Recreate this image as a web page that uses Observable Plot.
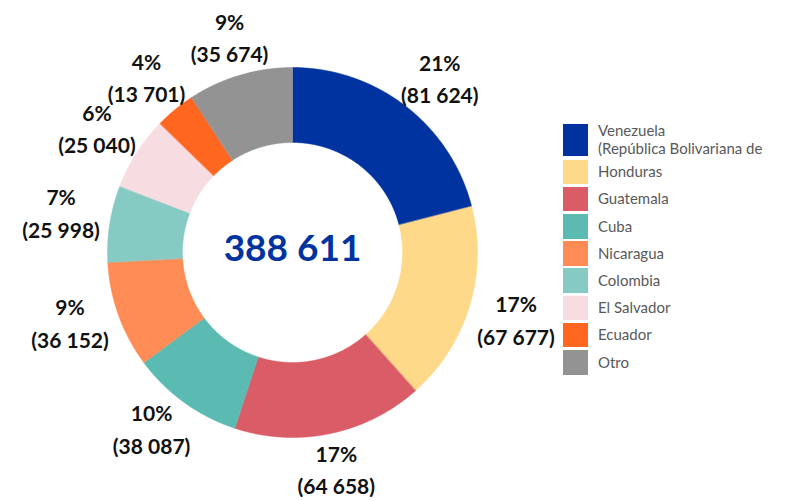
<!DOCTYPE html>
<html>
<head>
<meta charset="utf-8">
<script src="https://cdn.jsdelivr.net/npm/d3@7"></script>
<script src="https://cdn.jsdelivr.net/npm/@observablehq/plot@0.6"></script>
<style>
  html, body { margin: 0; padding: 0; background: #fff; }
  #wrap { position: relative; width: 790px; height: 501px; overflow: hidden; font-family: Lato, "Open Sans", sans-serif; }
  #legend { position: absolute; left: 563px; top: 122px; }
  .row { display: flex; align-items: center; margin-bottom: 2.7px; }
  .sw { width: 25px; height: 24.5px; flex: none; }
  .lab { margin-left: 10px; font-size: 15px; color: #595959; line-height: 17.5px; white-space: nowrap; }
</style>
</head>
<body>
<div id="wrap"><div id="chart"></div><div id="legend"></div></div>
<script>
// ---- data ----
const categories = ["Venezuela\n(República Bolivariana de", "Honduras", "Guatemala", "Cuba", "Nicaragua", "Colombia", "El Salvador", "Ecuador", "Otro"];
const values = [81624, 67677, 64658, 38087, 36152, 25998, 25040, 13701, 35674];
const colors = ["#0033a0", "#ffd98a", "#da5c66", "#5bbab2", "#ff8c55", "#85cbc4", "#f7dde1", "#ff6720", "#939393"];

// ---- layout constants ----
const W = 790, H = 501, CX = 292, CY = 252;
const R_OUT = 185, R_IN = 110;
const LABEL_RX = 235, LABEL_RY = 222, LABEL_SHIFT = 1 * Math.PI / 180;

const fmt = d3.formatLocale({decimal: ",", thousands: " ", grouping: [3], currency: ["", ""]}).format(",d");
const total = d3.sum(values);
const rows = categories.map((c, i) => ({category: c, value: values[i]}));
const arcs = d3.pie().sort(null).value(d => d.value)(rows);

// polygon points per slice (angle measured clockwise from 12 o'clock)
const pts = [];
for (const a of arcs) {
  const n = Math.max(2, Math.ceil((a.endAngle - a.startAngle) / 0.005));
  for (let k = 0; k <= n; k++) {
    const t = a.startAngle + (a.endAngle - a.startAngle) * k / n;
    pts.push({category: a.data.category, x: R_OUT * Math.sin(t), y: R_OUT * Math.cos(t)});
  }
  for (let k = n; k >= 0; k--) {
    const t = a.startAngle + (a.endAngle - a.startAngle) * k / n;
    pts.push({category: a.data.category, x: R_IN * Math.sin(t), y: R_IN * Math.cos(t)});
  }
}
const labels = arcs.map(a => {
  const t = (a.startAngle + a.endAngle) / 2 + LABEL_SHIFT;
  return {
    x: LABEL_RX * Math.sin(t), y: LABEL_RY * Math.cos(t),
    text: `${Math.round(a.data.value / total * 100)}%\n(${fmt(a.data.value)})`
  };
});

const chart = Plot.plot({
  width: W, height: H,
  margin: 0,
  x: {domain: [-CX, W - CX], axis: null},
  y: {domain: [-(H - CY), CY], axis: null},
  color: {domain: categories, range: colors},
  style: {fontFamily: "Lato, 'Open Sans', sans-serif", background: "#fff"},
  marks: [
    Plot.line(pts, {x: "x", y: "y", z: "category", fill: "category", stroke: "category", strokeWidth: 0.5, curve: "linear-closed"}),
    Plot.text(labels, {x: "x", y: "y", text: "text", fontSize: 21, fontWeight: "bold", fill: "#111", lineHeight: 1.55, dy: -3}),
    Plot.text([fmt(total)], {x: () => 0, y: () => 0, text: d => d, fontSize: 37, fontWeight: "bold", fill: "#0033a0", dy: -3})
  ]
});
document.getElementById("chart").appendChild(chart);

// legend
const leg = document.getElementById("legend");
categories.forEach((c, i) => {
  const row = document.createElement("div");
  row.className = "row";
  const sw = document.createElement("div");
  sw.className = "sw";
  sw.style.background = colors[i];
  if (c.includes("\n")) sw.style.height = "32px";
  const lab = document.createElement("div");
  lab.className = "lab";
  lab.innerHTML = c.split("\n").join("<br>");
  row.appendChild(sw); row.appendChild(lab);
  leg.appendChild(row);
});
</script>
</body>
</html>
